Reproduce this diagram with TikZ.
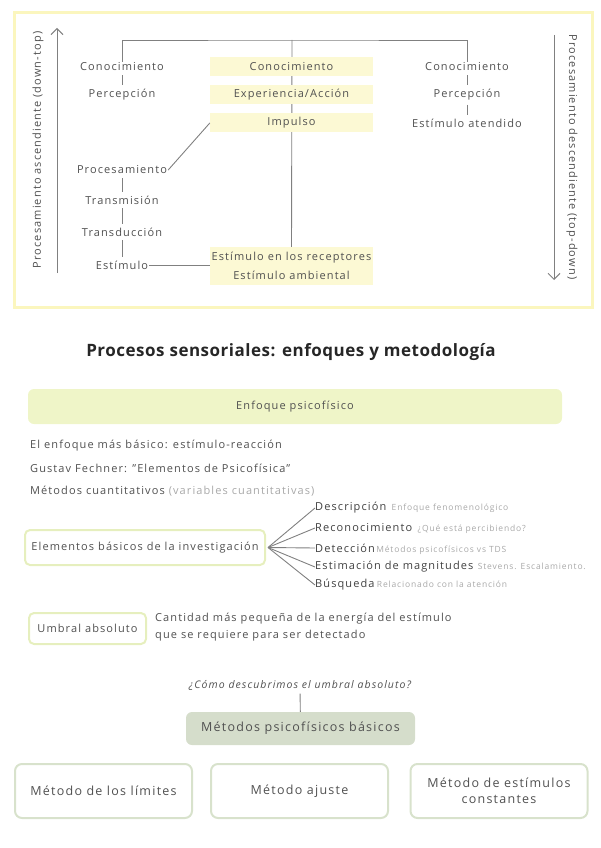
\documentclass[tikz,border=0pt]{standalone}
\usepackage{fontspec}
\setmainfont{Open Sans}[LetterSpace=10]
\newfontfamily\titlefont{Open Sans}[LetterSpace=3]
\usetikzlibrary{arrows.meta}
\definecolor{txt}{HTML}{505050}
\definecolor{lightxt}{HTML}{A8A8A8}
\definecolor{lin}{HTML}{808080}
\definecolor{yborder}{HTML}{FBF6BE}
\definecolor{yfill}{HTML}{FCF9D4}
\definecolor{gfill}{HTML}{EFF5C8}
\definecolor{gborder}{HTML}{E6EFBE}
\definecolor{mfill}{HTML}{D5DDCB}
\definecolor{mborder}{HTML}{D8E2CC}
\tikzset{
  lbl/.style={font=\fontsize{11}{13}\selectfont, text=txt, inner sep=1pt},
  ybox/.style={lbl, fill=yfill, minimum width=163pt, minimum height=19pt, inner sep=0pt},
  conn/.style={draw=lin, line width=0.9pt},
  dashc/.style={draw=lin, line width=0.9pt, shorten >=3pt, shorten <=3pt},
  body/.style={font=\fontsize{11}{13}\selectfont, text=txt, inner sep=0pt, anchor=west},
  note/.style={font=\fontsize{8.5}{10}\selectfont, text=lightxt, inner sep=0pt, anchor=base west},
  fanlbl/.style={font=\fontsize{11}{13}\selectfont, text=txt!80!black, inner sep=0pt, anchor=west},
  gbox/.style={draw=gborder, line width=2pt, rounded corners=5pt, font=\fontsize{11}{13}\selectfont, text=txt, inner sep=0pt},
  mbox/.style={draw=mborder, line width=2pt, rounded corners=7pt, font=\fontsize{12.5}{16}\selectfont, text=txt, align=center, minimum width=177pt, minimum height=54pt, inner sep=0pt},
}
\begin{document}
\begin{tikzpicture}[x=1pt,y=-1pt]
\useasboundingbox (0,0) rectangle (600,848);
% top frame
\draw[draw=yborder, line width=3pt] (14,13) rectangle (592,307);
% arrows
\coordinate (la1) at (57,273); \coordinate (la2) at (57,28);
\coordinate (ra1) at (554,35); \coordinate (ra2) at (554,280);
\draw[draw=lin, line width=1pt, -{Straight Barb[length=6pt,width=12pt]}] (la1) -- (la2);
\draw[draw=lin, line width=1pt, -{Straight Barb[length=6pt,width=12pt]}] (ra1) -- (ra2);
\node[lbl, rotate=90] (asc) at (38,150) {Procesamiento ascendiente (down-top)};
\node[lbl, rotate=-90] (desc2) at (572,157) {Procesamiento descendiente (top-down)};
% middle column
\coordinate (top) at (292,40);
\node[ybox, minimum height=38pt, align=center, font=\fontsize{11}{19}\selectfont] (est) at (291.5,266) {Estímulo en los receptores\\Estímulo ambiental};
\draw[conn] (top) -- (est.north);
\node[ybox] (mc) at (291.5,67) {Conocimiento};
\node[ybox] (me) at (291.5,95) {Experiencia/Acción};
\node[ybox] (mi) at (291.5,123) {Impulso};
% left column
\node[lbl] (lc) at (122,67) {Conocimiento};
\node[lbl] (lp) at (122,95) {Percepción};
\node[lbl] (lpr) at (122,170) {Procesamiento};
\node[lbl] (ltm) at (122,200) {Transmisión};
\node[lbl] (ltd) at (122,232) {Transducción};
\node[lbl] (les) at (122,265) {Estímulo};
% right column
\node[lbl] (rc) at (467,67) {Conocimiento};
\node[lbl] (rp) at (467,95) {Percepción};
\node[lbl] (ra) at (467,123) {Estímulo atendido};
% connectors
\draw[conn] (lc.north) |- (top) -| (rc.north);
\draw[dashc] (lc) -- (lp);
\draw[dashc] (rc) -- (rp);
\draw[dashc] (rp) -- (ra);
\draw[dashc] (lpr) -- (ltm);
\draw[dashc] (ltm) -- (ltd);
\draw[dashc] (ltd) -- (les);
\draw[conn] (lpr.east) -- (mi.west);
\draw[conn] (les.east) -- (les.east -| est.west);
% title
\node[font=\titlefont\fontsize{17}{20}\selectfont\bfseries, text=black!85] (title) at (291,352) {Procesos sensoriales: enfoques y metodología};
% enfoque psicofisico
\node[fill=gfill, rounded corners=6pt, minimum width=534pt, minimum height=35pt, font=\fontsize{11}{13}\selectfont, text=txt] (enf) at (295,406.5) {Enfoque psicofísico};
\node[body] (b1) at (30,446) {El enfoque más básico: estímulo-reacción};
\node[body] (b2) at (30,468) {Gustav Fechner: \char34 Elementos de Psicofísica\char34};
\node[body] (b3) at (30,491) {Métodos cuantitativos \textcolor{lightxt}{(variables cuantitativas)}};
% elementos basicos
\node[gbox, minimum width=240pt, minimum height=35pt] (elem) at (145,547.5) {Elementos básicos de la investigación};
\node[fanlbl] (f1) at (315,508) {Descripción};
\node[fanlbl] (f2) at (315,528) {Reconocimiento};
\node[fanlbl] (f3) at (315,548) {Detección};
\node[fanlbl] (f4) at (315,567) {Estimación de magnitudes};
\node[fanlbl] (f5) at (315,585) {Búsqueda};
\node[note] at ([xshift=5pt]f1.base east) {Enfoque fenomenológico};
\node[note] at ([xshift=5pt]f2.base east) {¿Qué está percibiendo?};
\node[note] at ([xshift=1pt]f3.base east) {Métodos psicofísicos vs TDS};
\node[note] at ([xshift=4pt]f4.base east) {Stevens. Escalamiento.};
\node[note] at ([xshift=2pt]f5.base east) {Relacionado con la atención};
\foreach \f in {f1,f2,f3,f4,f5} \draw[conn] ([xshift=2pt]elem.east) -- (\f.west);
% umbral
\node[gbox, minimum width=117pt, minimum height=31pt] (umb) at (87.5,628.5) {Umbral absoluto};
\node[body, align=left, font=\fontsize{11}{17}\selectfont] (udesc) at (155,627.5) {Cantidad más pequeña de la energía del estímulo\\que se requiere para ser detectado};
% metodos
\node[font=\fontsize{10.5}{12}\selectfont\itshape, text=txt] (q) at (300,685) {¿Cómo descubrimos el umbral absoluto?};
\node[fill=mfill, rounded corners=6pt, minimum width=229pt, minimum height=33pt, font=\fontsize{12.5}{15}\selectfont, text=txt] (met) at (300.5,728.5) {Métodos psicofísicos básicos};
\draw[conn] (q) -- (met);
\node[mbox] (m1) at (103.5,791) {Método de los límites};
\node[mbox] (m2) at (299.5,791) {Método ajuste};
\node[mbox] (m3) at (499,791) {Método de estímulos\\constantes};
\end{tikzpicture}
\end{document}
